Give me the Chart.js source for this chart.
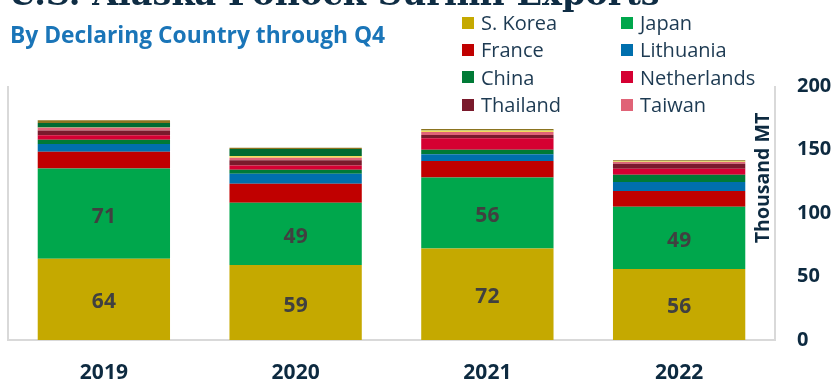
<!DOCTYPE html>
<html>
<head>
<meta charset="utf-8">
<script src="https://cdn.jsdelivr.net/npm/chart.js@4.4.1/dist/chart.umd.min.js"></script>
<style>
  html, body { margin: 0; padding: 0; background: #fff; }
  .wrap { position: relative; width: 835px; height: 380px; overflow: hidden; }
  .wrap canvas { position: absolute; left: 0; top: 0; }
  .title {
    position: absolute; left: 8px; top: -26px; margin: 0;
    font: bold 33.5px "DejaVu Serif", serif; color: #0f2d44; white-space: nowrap;
  }
  .subtitle {
    position: absolute; left: 10px; top: 19px;
    font: bold 22.8px "Open Sans", sans-serif; color: #1a75b8; white-space: nowrap;
  }
  .legend {
    position: absolute; left: 462px; top: 9px;
    display: grid; grid-template-columns: 159px 160px; grid-auto-rows: 27.3px;
    font: 20px "Open Sans", sans-serif; color: #1d3a52;
  }
  .legend span { display: flex; align-items: center; white-space: nowrap; }
  .legend i { display: inline-block; width: 12px; height: 12px; margin-right: 7px; }
</style>
</head>
<body>
<div class="wrap">
  <canvas id="chart" width="835" height="380"></canvas>
  <h1 class="title">U.S. Alaska Pollock Surimi Exports</h1>
  <div class="subtitle">By Declaring Country through Q4</div>
  <div class="legend" id="legend"></div>
</div>
<script>
// thousand metric tons, Q1-Q4 totals
const years = ["2019", "2020", "2021", "2022"];
const sKorea = [64, 59, 72, 56];
const japan = [71, 49, 56, 49];
const france = [13.3, 15, 12.9, 12.3];
const lithuania = [6, 7.9, 5.3, 7.1];
const china = [3.4, 3.1, 3.7, 5.8];
const netherlands = [3.6, 3.4, 8.9, 4.7];
const thailand = [3.7, 4.2, 2.6, 3.9];
const taiwan = [2.1, 1.9, 2.4, 1.3];
const otherA = [0.3, 1.3, 1.1, 0.6];
const otherB = [3.4, 5.5, 0.3, 0.2];
const otherC = [2.3, 1.1, 1.0, 0.6];
const yTicks = [0, 50, 100, 150, 200];

const navy = "#0d2a40";
const LEGEND_ITEMS = 8;
const LABELLED = 2; // only the two biggest series get value labels

Chart.defaults.font.family = "'Open Sans', sans-serif";

const series = [
  { label: "S. Korea", data: sKorea, color: "#c5a900" },
  { label: "Japan", data: japan, color: "#00a74c" },
  { label: "France", data: france, color: "#c00000" },
  { label: "Lithuania", data: lithuania, color: "#006fad" },
  { label: "China", data: china, color: "#007a36" },
  { label: "Netherlands", data: netherlands, color: "#d50032" },
  { label: "Thailand", data: thailand, color: "#7a1a2c" },
  { label: "Taiwan", data: taiwan, color: "#e06377" },
  { label: "Other A", data: otherA, color: "#f2dd5a" },
  { label: "Other B", data: otherB, color: "#006a30" },
  { label: "Other C", data: otherC, color: "#8b7420" }
];

// grey frame on left, right and bottom of the plot
const frame = {
  id: "frame",
  beforeDatasetsDraw(chart) {
    const { ctx, chartArea: a } = chart;
    ctx.save();
    ctx.strokeStyle = "#d9d9d9";
    ctx.lineWidth = 2;
    ctx.beginPath();
    ctx.moveTo(a.left, a.top);
    ctx.lineTo(a.left, a.bottom);
    ctx.lineTo(a.right, a.bottom);
    ctx.lineTo(a.right, a.top);
    ctx.stroke();
    ctx.restore();
  }
};

// value labels in the middle of segments + rotated axis title
const labels = {
  id: "labels",
  afterDatasetsDraw(chart) {
    const ctx = chart.ctx;
    ctx.save();
    ctx.font = "bold 21px 'Open Sans', sans-serif";
    ctx.fillStyle = "#404040";
    ctx.textAlign = "center";
    ctx.textBaseline = "middle";
    for (let d = 0; d < LABELLED; d++) {
      chart.getDatasetMeta(d).data.forEach((bar, i) => {
        const { x, y, base } = bar.getProps(["x", "y", "base"], true);
        ctx.fillText(Math.round(chart.data.datasets[d].data[i]), x, (y + base) / 2 + 3);
      });
    }
    ctx.translate(763, 178);
    ctx.rotate(-Math.PI / 2);
    ctx.font = "bold 19.5px 'Open Sans', sans-serif";
    ctx.fillStyle = navy;
    ctx.fillText("Thousand MT", 0, 0);
    ctx.restore();
  }
};

const chart = new Chart(document.getElementById("chart"), {
  type: "bar",
  data: {
    labels: years,
    datasets: series.map(s => ({
      label: s.label,
      data: s.data,
      backgroundColor: s.color,
      borderWidth: 0,
      categoryPercentage: 1,
      barPercentage: 0.69
    }))
  },
  options: {
    responsive: false,
    animation: false,
    layout: { padding: { left: 8, top: 86, right: 0, bottom: 0 } },
    plugins: { legend: { display: false }, tooltip: { enabled: false } },
    scales: {
      x: {
        stacked: true,
        grid: { display: false },
        border: { display: false },
        ticks: { color: navy, font: { size: 21, weight: "bold" }, padding: 12 },
        afterFit: s => { s.height = 40; }
      },
      y: {
        stacked: true,
        position: "right",
        min: yTicks[0],
        max: yTicks[yTicks.length - 1],
        grid: { display: false, drawTicks: false },
        border: { display: false },
        afterBuildTicks: s => { s.ticks = yTicks.map(v => ({ value: v })); },
        ticks: { color: navy, font: { size: 20, weight: "bold" }, padding: 22 },
        afterFit: s => { s.width = 60; }
      }
    }
  },
  plugins: [frame, labels]
});

// two-column legend for the named countries
const legendEl = document.getElementById("legend");
chart.data.datasets.slice(0, LEGEND_ITEMS).forEach(ds => {
  const item = document.createElement("span");
  item.innerHTML = `<i style="background:${ds.backgroundColor}"></i>${ds.label}`;
  legendEl.appendChild(item);
});
</script>
</body>
</html>
